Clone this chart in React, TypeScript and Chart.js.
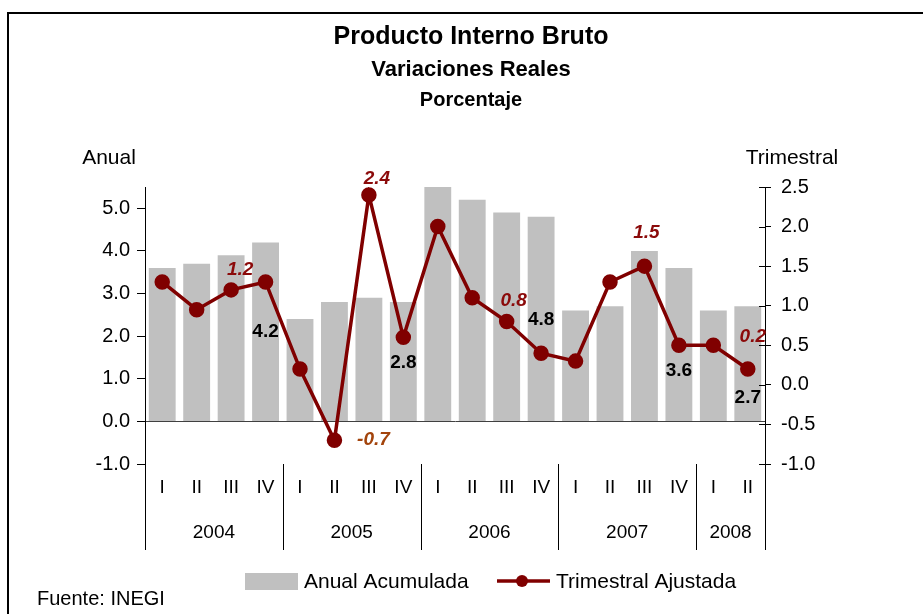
import React, { useEffect, useRef } from "react";
import { Chart, registerables } from "chart.js";

Chart.register(...registerables);

// ---- Data ----
const quarters = ["I", "II", "III", "IV", "I", "II", "III", "IV", "I", "II", "III", "IV", "I", "II", "III", "IV", "I", "II"];
const years = ["2004", "2005", "2006", "2007", "2008"];
const quartersPerYear = [4, 4, 4, 4, 2];
const anualAcumulada = [3.6, 3.7, 3.9, 4.2, 2.4, 2.8, 2.9, 2.8, 5.5, 5.2, 4.9, 4.8, 2.6, 2.7, 4.0, 3.6, 2.6, 2.7];
const trimestralAjustada = [1.3, 0.95, 1.2, 1.3, 0.2, -0.7, 2.4, 0.6, 2.0, 1.1, 0.8, 0.4, 0.3, 1.3, 1.5, 0.5, 0.5, 0.2];
const anualTicks = [-1, 0, 1, 2, 3, 4, 5];
const trimestralTicks = [-1, -0.5, 0, 0.5, 1, 1.5, 2, 2.5];
const barLabelIdx = [3, 7, 11, 15, 17];
const lineLabelIdx = [2, 5, 6, 10, 14, 17];

// ---- Styles ----
const FONT = "'Liberation Sans', Arial, Helvetica, sans-serif";
const BAR_COLOR = "#C0C0C0";
const LINE_COLOR = "#800000";
const LABEL_RED = "#8B0A0A";
const LABEL_ORANGE = "#A3440C";
const barLabelDy = [50, 25, -33, 25, 29];
const lineLabelOff: [number, number][] = [[9, -20], [39, 0], [8, -16], [7, -21], [2, -33], [5, -32]];

const decorPlugin = {
  id: "decor",
  afterDraw(chart: any) {
    const { ctx, chartArea, scales } = chart;
    const xs = scales.x;
    const y1 = scales.y1;
    const ca = chartArea;
    ctx.save();

    // outer frame (top and left)
    ctx.strokeStyle = "#000";
    ctx.lineWidth = 2;
    ctx.beginPath();
    ctx.moveTo(8, 614);
    ctx.lineTo(8, 13);
    ctx.lineTo(923, 13);
    ctx.stroke();

    // titles
    ctx.fillStyle = "#000";
    ctx.textAlign = "center";
    ctx.textBaseline = "middle";
    ctx.font = `bold 25px ${FONT}`;
    ctx.fillText("Producto Interno Bruto", 471, 37);
    ctx.font = `bold 22px ${FONT}`;
    ctx.fillText("Variaciones Reales", 471, 70);
    ctx.font = `bold 20px ${FONT}`;
    ctx.fillText("Porcentaje", 471, 100);

    // axis titles
    ctx.font = `21px ${FONT}`;
    ctx.fillText("Anual", 109, 158);
    ctx.fillText("Trimestral", 792, 158);

    // right axis inner tick halves
    ctx.strokeStyle = "#000";
    ctx.lineWidth = 1;
    y1.ticks.forEach((t: any) => {
      const py = Math.round(y1.getPixelForValue(t.value)) + 0.5;
      ctx.beginPath();
      ctx.moveTo(ca.right - 6, py);
      ctx.lineTo(ca.right, py);
      ctx.stroke();
    });

    // category separators + year labels
    const bottom = 550;
    const boundary = (k: number) => {
      if (k <= 0) return ca.left;
      if (k >= quarters.length) return ca.right;
      return (xs.getPixelForValue(k - 1) + xs.getPixelForValue(k)) / 2;
    };
    let k = 0;
    const edges = [0];
    quartersPerYear.forEach((n) => {
      k += n;
      edges.push(k);
    });
    edges.forEach((e) => {
      const px = Math.round(boundary(e)) + 0.5;
      ctx.beginPath();
      ctx.moveTo(px, ca.bottom);
      ctx.lineTo(px, bottom);
      ctx.stroke();
    });
    ctx.font = `19px ${FONT}`;
    ctx.fillStyle = "#000";
    years.forEach((yr, i) => {
      const cx = (boundary(edges[i]) + boundary(edges[i + 1])) / 2;
      ctx.fillText(yr, cx, 533);
    });

    // legend
    ctx.fillStyle = BAR_COLOR;
    ctx.fillRect(245, 573, 53, 17);
    ctx.fillStyle = "#000";
    ctx.textAlign = "left";
    ctx.font = `21px ${FONT}`;
    ctx.fillText("Anual Acumulada", 304, 582);
    ctx.strokeStyle = LINE_COLOR;
    ctx.lineWidth = 3.5;
    ctx.beginPath();
    ctx.moveTo(497, 581);
    ctx.lineTo(550, 581);
    ctx.stroke();
    ctx.fillStyle = LINE_COLOR;
    ctx.beginPath();
    ctx.arc(522, 581, 6, 0, Math.PI * 2);
    ctx.fill();
    ctx.fillStyle = "#000";
    ctx.fillText("Trimestral Ajustada", 556, 582);

    // source
    ctx.font = `20px ${FONT}`;
    ctx.fillText("Fuente: INEGI", 37, 599);

    ctx.restore();
  },
  afterDatasetsDraw(chart: any) {
    const { ctx, scales } = chart;
    const xs = scales.x;
    const y1 = scales.y1;
    ctx.save();
    ctx.textAlign = "center";
    ctx.textBaseline = "middle";
    // bar value labels
    ctx.font = `bold 19px ${FONT}`;
    ctx.fillStyle = "#000";
    barLabelIdx.forEach((i, j) => {
      const px = xs.getPixelForValue(i);
      const py = y1.getPixelForValue(trimestralAjustada[i]) + barLabelDy[j];
      ctx.fillText(anualAcumulada[i].toFixed(1), px, py);
    });
    // line value labels
    ctx.font = `italic bold 19px ${FONT}`;
    lineLabelIdx.forEach((i, j) => {
      const v = trimestralAjustada[i];
      const px = xs.getPixelForValue(i) + lineLabelOff[j][0];
      const py = y1.getPixelForValue(v) + lineLabelOff[j][1];
      ctx.fillStyle = v < 0 ? LABEL_ORANGE : LABEL_RED;
      ctx.fillText(v.toFixed(1), px, py);
    });
    ctx.restore();
  },
};

export default function App() {
  const canvasRef = useRef<HTMLCanvasElement | null>(null);

  useEffect(() => {
    const canvas = canvasRef.current;
    if (!canvas) return;
    const chart = new Chart(canvas, {
      type: "bar",
      data: {
        labels: quarters,
        datasets: [
          {
            type: "line",
            label: "Trimestral Ajustada",
            data: trimestralAjustada,
            yAxisID: "y1",
            borderColor: LINE_COLOR,
            backgroundColor: LINE_COLOR,
            borderWidth: 3.5,
            pointRadius: 6,
            pointBackgroundColor: LINE_COLOR,
            pointBorderColor: LINE_COLOR,
            tension: 0,
            order: 0,
          } as any,
          {
            type: "bar",
            label: "Anual Acumulada",
            data: anualAcumulada,
            yAxisID: "y",
            backgroundColor: BAR_COLOR,
            borderWidth: 0,
            categoryPercentage: 1,
            barPercentage: 0.78,
            order: 1,
          },
        ],
      },
      options: {
        responsive: false,
        animation: false,
        layout: { padding: { top: 187, left: 0, right: 0, bottom: 0 } },
        plugins: {
          legend: { display: false },
          title: { display: false },
          tooltip: { enabled: false },
        },
        scales: {
          x: {
            type: "category",
            grid: { display: false, drawTicks: false },
            border: { display: false },
            ticks: {
              color: "#000",
              font: { family: FONT, size: 19 },
              padding: 12,
              maxRotation: 0,
              autoSkip: false,
            },
            afterFit: (s: any) => {
              s.height = 150;
            },
          },
          y: {
            type: "linear",
            position: "left",
            min: -1,
            max: 5.5,
            afterBuildTicks: (s: any) => {
              s.ticks = anualTicks.map((v) => ({ value: v }));
            },
            ticks: {
              autoSkip: false,
              color: "#000",
              font: { family: FONT, size: 20 },
              padding: 7,
              callback: (v: any) => Number(v).toFixed(1),
            },
            grid: {
              drawOnChartArea: true,
              color: (c: any) => (c.tick && c.tick.value === 0 ? "#404040" : "rgba(0,0,0,0)"),
              tickColor: "#000",
              tickLength: 8,
              lineWidth: 1,
            },
            border: { display: true, color: "#000", width: 1 },
            afterFit: (s: any) => {
              s.width = 145;
            },
          },
          y1: {
            type: "linear",
            position: "right",
            min: -1,
            max: 2.5,
            afterBuildTicks: (s: any) => {
              s.ticks = trimestralTicks.map((v) => ({ value: v }));
            },
            ticks: {
              autoSkip: false,
              color: "#000",
              font: { family: FONT, size: 20 },
              padding: 10,
              callback: (v: any) => Number(v).toFixed(1),
            },
            grid: {
              drawOnChartArea: false,
              tickColor: "#000",
              tickLength: 6,
            },
            border: { display: true, color: "#000", width: 1 },
            afterFit: (s: any) => {
              s.width = 158;
            },
          },
        },
      },
      plugins: [decorPlugin],
    });
    return () => chart.destroy();
  }, []);

  return (
    <div style={{ position: "absolute", left: 0, top: 0, width: 923, height: 614, background: "#fff" }}>
      <canvas ref={canvasRef} width={923} height={614} style={{ display: "block" }} />
    </div>
  );
}
